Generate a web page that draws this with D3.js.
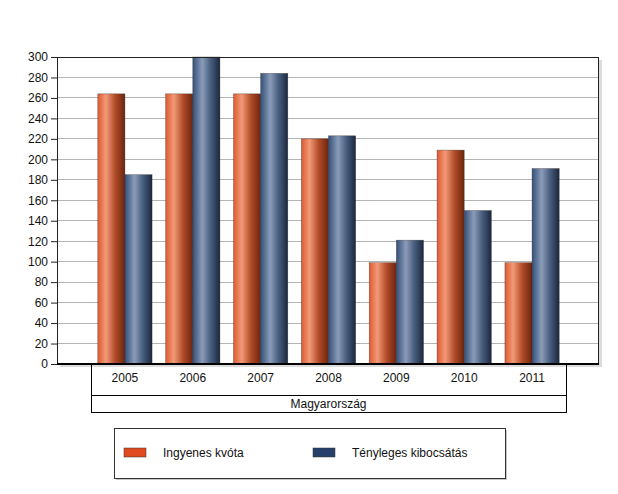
<!DOCTYPE html>
<html><head><meta charset="utf-8">
<script src="https://cdn.jsdelivr.net/npm/d3@7"></script>
<style>
body{margin:0;background:#fff;}
text{font-family:"Liberation Sans",Arial,sans-serif;}
</style></head>
<body><svg id="c" width="618" height="494"></svg>
<script>
const categories = ["2005","2006","2007","2008","2009","2010","2011"];
const seriesNames = ["Ingyenes kvóta","Tényleges kibocsátás"];
const ingyenes = [264,264,264,220,99,209,99];
const tenyleges = [185,300,284,223,121,150,191];
const yTicks = [0,20,40,60,80,100,120,140,160,180,200,220,240,260,280,300];
const groupLabel = "Magyarország";

const svg = d3.select("#c");
const plot = {l:57, r:599, t:57, b:364};
const catL = 91, catR = 566;

const defs = svg.append("defs");
function grad(id, stops){
  const g = defs.append("linearGradient").attr("id",id).attr("x1","0").attr("x2","1").attr("y1","0").attr("y2","0");
  stops.forEach(s=>g.append("stop").attr("offset",s[0]).attr("stop-color",s[1]));
}
grad("gO",[[0,"#dc5a30"],[0.3,"#f29a78"],[0.65,"#b04a26"],[1,"#6a2610"]]);
grad("gB",[[0,"#34507a"],[0.35,"#8a9cb8"],[0.65,"#4a5f80"],[1,"#1a283e"]]);
const fills = ["url(#gO)","url(#gB)"];
const legendColors = ["#e04a1e","#26406c"];

const y = d3.scaleLinear().domain([0,300]).range([plot.b, plot.t]);
const x = d3.scaleBand().domain(categories).range([catL, catR]).paddingInner(0.2).paddingOuter(0.1);
const xs = d3.scaleBand().domain(seriesNames).range([0, x.bandwidth()]);

// shadow of plot
svg.append("rect").attr("x",plot.l+3).attr("y",plot.t+3).attr("width",plot.r-plot.l).attr("height",plot.b-plot.t).attr("fill","#dcdcdc");
svg.append("rect").attr("x",plot.l).attr("y",plot.t).attr("width",plot.r-plot.l).attr("height",plot.b-plot.t).attr("fill","#fff");

// gridlines
svg.append("g").selectAll("line").data(yTicks.filter(d=>d>0&&d<300)).join("line")
  .attr("x1",plot.l).attr("x2",plot.r).attr("y1",d=>y(d)).attr("y2",d=>y(d))
  .attr("stroke","#b4b4b4").attr("stroke-width",1).attr("shape-rendering","crispEdges");

// bars
const data = categories.map((c,i)=>({c, v:[ingyenes[i], tenyleges[i]]}));
const gg = svg.append("g").selectAll("g").data(data).join("g").attr("transform",d=>`translate(${x(d.c)},0)`);
gg.selectAll("rect").data(d=>d.v.map((v,j)=>({v,j}))).join("rect")
  .attr("x",d=>xs(seriesNames[d.j])).attr("width",xs.bandwidth())
  .attr("y",d=>y(d.v)).attr("height",d=>y(0)-y(d.v))
  .attr("fill",d=>fills[d.j]).attr("stroke","#2a1a14").attr("stroke-opacity",0.5).attr("stroke-width",0.6);

// plot border
svg.append("rect").attr("x",plot.l+0.5).attr("y",plot.t+0.5).attr("width",plot.r-plot.l-1).attr("height",plot.b-plot.t)
  .attr("fill","none").attr("stroke","#222").attr("stroke-width",1);
svg.append("line").attr("x1",plot.l).attr("x2",plot.r).attr("y1",plot.b).attr("y2",plot.b).attr("stroke","#000").attr("stroke-width",2);

// y axis
const ya = d3.axisLeft(y).tickValues(yTicks).tickSize(6).tickPadding(3);
const yg = svg.append("g").attr("transform",`translate(${plot.l},0)`).call(ya);
yg.select(".domain").remove();
yg.selectAll("text").attr("font-size",12).attr("fill","#111");
yg.selectAll("line").attr("stroke","#222");

// category box
const cb = svg.append("g").attr("stroke","#000").attr("stroke-width",1);
cb.append("line").attr("x1",catL+0.5).attr("x2",catL+0.5).attr("y1",plot.b).attr("y2",412);
cb.append("line").attr("x1",catR+0.5).attr("x2",catR+0.5).attr("y1",plot.b).attr("y2",412);
cb.append("line").attr("x1",catL).attr("x2",catR+1).attr("y1",395.5).attr("y2",395.5);
cb.append("line").attr("x1",catL).attr("x2",catR+1).attr("y1",412.5).attr("y2",412.5);
svg.append("g").selectAll("text").data(categories).join("text")
  .attr("x",d=>x(d)+x.bandwidth()/2).attr("y",382).attr("text-anchor","middle")
  .attr("font-size",12).attr("fill","#111").text(d=>d);
svg.append("text").attr("x",(catL+catR)/2).attr("y",408).attr("text-anchor","middle")
  .attr("font-size",12).attr("fill","#111").text(groupLabel);

// legend
const lg = {x:114, y:428, w:391, h:50};
svg.append("rect").attr("x",lg.x+2).attr("y",lg.y+2).attr("width",lg.w).attr("height",lg.h).attr("fill","#c4c4c4");
svg.append("rect").attr("x",lg.x+0.5).attr("y",lg.y+0.5).attr("width",lg.w).attr("height",lg.h).attr("fill","#fff").attr("stroke","#333");
const lx = [124, 313];
seriesNames.forEach((n,i)=>{
  svg.append("rect").attr("x",lx[i]).attr("y",448).attr("width",22).attr("height",9).attr("fill",legendColors[i]).attr("stroke","#333").attr("stroke-width",0.5);
  svg.append("text").attr("x",lx[i]+39).attr("y",457).attr("font-size",12).attr("fill","#111").text(n);
});
</script></body></html>
